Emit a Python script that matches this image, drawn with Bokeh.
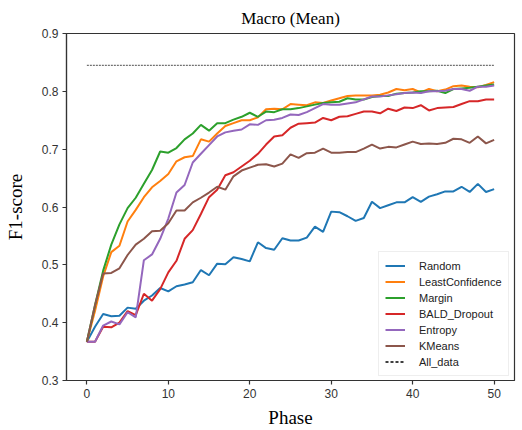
from bokeh.plotting import figure
from bokeh.models import FixedTicker, PrintfTickFormatter
from bokeh.embed import file_html
from bokeh.resources import INLINE

phase = list(range(51))

random_vals = [0.367, 0.393, 0.415, 0.411, 0.412, 0.426, 0.424, 0.438, 0.447, 0.460,
               0.454, 0.463, 0.466, 0.470, 0.491, 0.482, 0.502, 0.501, 0.513, 0.510,
               0.506, 0.539, 0.529, 0.526, 0.546, 0.542, 0.542, 0.547, 0.566, 0.557,
               0.592, 0.591, 0.584, 0.576, 0.581, 0.609, 0.598, 0.603, 0.608, 0.608,
               0.617, 0.609, 0.618, 0.622, 0.627, 0.627, 0.635, 0.626, 0.640, 0.626,
               0.631]
least_conf = [0.367, 0.420, 0.480, 0.522, 0.533, 0.575, 0.595, 0.617, 0.634, 0.645,
              0.657, 0.679, 0.686, 0.688, 0.717, 0.713, 0.727, 0.740, 0.745, 0.750,
              0.750, 0.755, 0.769, 0.770, 0.769, 0.778, 0.777, 0.776, 0.781, 0.780,
              0.784, 0.788, 0.792, 0.793, 0.793, 0.793, 0.794, 0.798, 0.804, 0.802,
              0.804, 0.798, 0.804, 0.800, 0.803, 0.809, 0.810, 0.808, 0.807, 0.811,
              0.816]
margin = [0.367, 0.430, 0.490, 0.535, 0.570, 0.598, 0.616, 0.640, 0.664, 0.696,
          0.694, 0.702, 0.717, 0.727, 0.742, 0.732, 0.745, 0.745, 0.751, 0.756,
          0.763, 0.756, 0.765, 0.764, 0.769, 0.769, 0.771, 0.774, 0.777, 0.780,
          0.781, 0.782, 0.788, 0.786, 0.786, 0.790, 0.792, 0.792, 0.796, 0.797,
          0.798, 0.800, 0.800, 0.801, 0.797, 0.804, 0.805, 0.806, 0.808, 0.810,
          0.812]
bald_dropout = [0.367, 0.367, 0.393, 0.392, 0.400, 0.420, 0.413, 0.450, 0.438, 0.458,
                0.487, 0.507, 0.545, 0.560, 0.588, 0.617, 0.630, 0.655, 0.660, 0.670,
                0.680, 0.692, 0.708, 0.722, 0.724, 0.737, 0.744, 0.745, 0.746, 0.754,
                0.750, 0.756, 0.757, 0.761, 0.765, 0.765, 0.762, 0.770, 0.766, 0.772,
                0.771, 0.776, 0.767, 0.771, 0.772, 0.773, 0.778, 0.783, 0.783, 0.786,
                0.786]
entropy = [0.367, 0.367, 0.395, 0.402, 0.397, 0.418, 0.409, 0.508, 0.518, 0.545,
           0.580, 0.625, 0.638, 0.677, 0.692, 0.707, 0.722, 0.729, 0.732, 0.734,
           0.743, 0.742, 0.750, 0.751, 0.754, 0.760, 0.759, 0.764, 0.771, 0.778,
           0.777, 0.777, 0.779, 0.781, 0.786, 0.791, 0.791, 0.793, 0.795, 0.797,
           0.798, 0.797, 0.800, 0.800, 0.801, 0.804, 0.804, 0.801, 0.808, 0.808,
           0.810]
kmeans = [0.367, 0.430, 0.485, 0.486, 0.494, 0.517, 0.535, 0.545, 0.558, 0.559,
          0.572, 0.594, 0.594, 0.608, 0.616, 0.625, 0.635, 0.630, 0.653, 0.663,
          0.668, 0.673, 0.674, 0.670, 0.675, 0.691, 0.685, 0.693, 0.694, 0.701,
          0.694, 0.694, 0.695, 0.695, 0.701, 0.708, 0.701, 0.704, 0.703, 0.708,
          0.713, 0.709, 0.710, 0.709, 0.711, 0.718, 0.717, 0.711, 0.722, 0.710,
          0.716]
all_data = 0.845

series_names = ["Random", "LeastConfidence", "Margin", "BALD_Dropout", "Entropy", "KMeans"]
series_values = [random_vals, least_conf, margin, bald_dropout, entropy, kmeans]
series_colors = ["#1f77b4", "#ff7f0e", "#2ca02c", "#d62728", "#9467bd", "#8c564b"]

x_ticks = [0, 10, 20, 30, 40, 50]
y_ticks = [0.3, 0.4, 0.5, 0.6, 0.7, 0.8, 0.9]

SANS = "Liberation Sans"
SERIF = "Liberation Serif"
EDGE = "#333333"

p = figure(width=520, height=430, output_backend="svg", toolbar_location=None,
           x_range=(-2.5, 52.5), y_range=(0.3, 0.9),
           min_border_left=66, min_border_right=6, min_border_top=33, min_border_bottom=48,
           title="Macro (Mean)")

p.title.align = "center"
p.title.text_font = SERIF
p.title.text_font_size = "17px"
p.title.text_font_style = "normal"
p.title.text_color = "black"
p.title.standoff = 12

p.xgrid.visible = False
p.ygrid.visible = False
p.outline_line_color = EDGE
p.outline_line_width = 1.2
p.background_fill_color = "white"
p.border_fill_color = "white"

for ax in (p.xaxis[0], p.yaxis[0]):
    ax.axis_line_color = EDGE
    ax.axis_line_width = 1.2
    ax.major_tick_line_color = EDGE
    ax.major_tick_line_width = 1.2
    ax.major_tick_in = 0
    ax.major_tick_out = 4
    ax.minor_tick_line_color = None
    ax.major_label_text_font = SANS
    ax.major_label_text_font_size = "12px"
    ax.major_label_text_color = EDGE
    ax.axis_label_text_font = SERIF
    ax.axis_label_text_font_size = "19px"
    ax.axis_label_text_font_style = "normal"
    ax.axis_label_text_color = "black"

p.xaxis.ticker = FixedTicker(ticks=x_ticks)
p.yaxis.ticker = FixedTicker(ticks=y_ticks)
p.yaxis.formatter = PrintfTickFormatter(format="%.1f")
p.xaxis.axis_label = "Phase"
p.yaxis.axis_label = "F1-score"
p.xaxis.major_label_standoff = 4
p.xaxis.axis_label_standoff = 6
p.yaxis.major_label_standoff = 4
p.yaxis.axis_label_standoff = 13

for name, vals, col in zip(series_names, series_values, series_colors):
    p.line(phase, vals, line_color=col, line_width=2, legend_label=name)

# All_data reference line
p.line([phase[0], phase[-1]], [all_data, all_data], line_color="#222222",
       line_width=0.8, line_dash="2 1")
# legend proxy for All_data (not drawn in the plot area)
nan = float("nan")
p.line(x=[nan, nan], y=[nan, nan], line_color="black", line_width=1.5,
       line_dash="3 2", legend_label="All_data")

lg = p.legend[0]
lg.location = (312, 4)
lg.margin = 0
lg.padding = 6
lg.spacing = 1
lg.label_height = 15
lg.glyph_height = 15
lg.glyph_width = 20
lg.label_standoff = 14
lg.label_text_font = SANS
lg.label_text_font_size = "11px"
lg.label_text_color = "#222222"
lg.border_line_color = "#dddddd"
lg.border_line_width = 1
lg.background_fill_color = "white"
lg.background_fill_alpha = 0.85

open("out.html", "w").write(file_html(p, INLINE))
